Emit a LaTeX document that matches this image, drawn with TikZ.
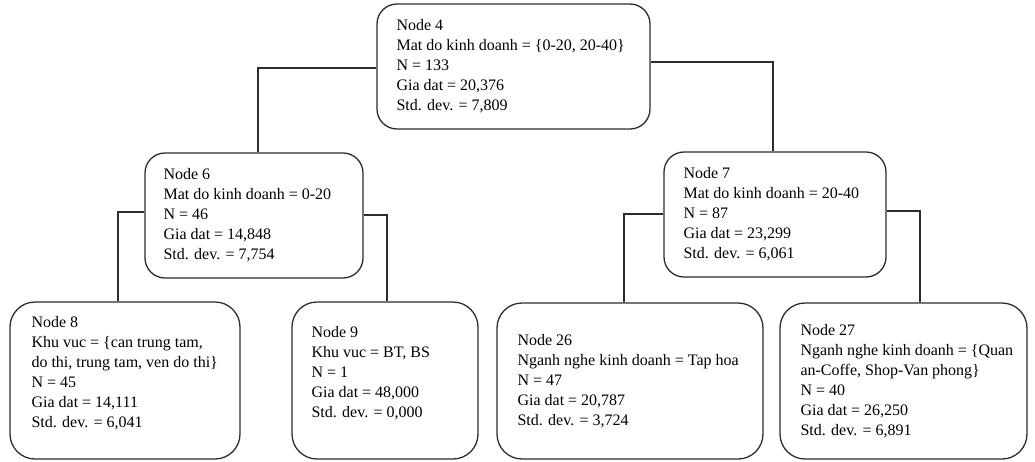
\documentclass[tikz,border=0pt]{standalone}
\usepackage{fontspec}
\setmainfont{Liberation Serif}
\definecolor{ink}{RGB}{45,45,45}
\tikzset{
  treebox/.style={draw=ink, line width=1.3pt, rounded corners=20pt, fill=white, inner sep=0pt},
  leafbox/.style={treebox, rounded corners=25pt},
  boxtext/.style={anchor=west, align=left, inner sep=0pt, font=\fontsize{16}{20}\selectfont, text=black},
  link/.style={draw=ink, line width=1.3pt}
}
\begin{document}
\begin{tikzpicture}[x=1pt,y=-1pt]
\useasboundingbox (0,0) rectangle (1035,461);

% boxes of the regression tree
\node[treebox, minimum width=273pt, minimum height=125pt] (n4) at (513.5,66.5) {};
\node[treebox, minimum width=218pt, minimum height=125pt] (n6) at (254,215.5) {};
\node[treebox, minimum width=222pt, minimum height=125pt] (n7) at (775,214.5) {};
\node[leafbox, minimum width=230pt, minimum height=157pt] (n8) at (125,380.5) {};
\node[leafbox, minimum width=186pt, minimum height=157pt] (n9) at (385,380.5) {};
\node[leafbox, minimum width=266pt, minimum height=156pt] (n26) at (630,381) {};
\node[leafbox, minimum width=247pt, minimum height=156pt] (n27) at (903.5,381) {};

% contents of each box
\node[boxtext] (t4) at ([xshift=20pt]n4.west) {Node 4\\Mat do kinh doanh = \{0-20, 20-40\}\\N = 133\\Gia dat = 20,376\\Std. dev. = 7,809};
\node[boxtext] (t6) at ([xshift=19pt]n6.west) {Node 6\\Mat do kinh doanh = 0-20\\N = 46\\Gia dat = 14,848\\Std. dev. = 7,754};
\node[boxtext] (t7) at ([xshift=20pt]n7.west) {Node 7\\Mat do kinh doanh = 20-40\\N = 87\\Gia dat = 23,299\\Std. dev. = 6,061};
\node[boxtext] (t8) at ([xshift=22pt,yshift=7pt]n8.west) {Node 8\\Khu vuc = \{can trung tam,\\do thi, trung tam, ven do thi\}\\N = 45\\Gia dat = 14,111\\Std. dev. = 6,041};
\node[boxtext] (t9) at ([xshift=20pt,yshift=7pt]n9.west) {Node 9\\Khu vuc = BT, BS\\N = 1\\Gia dat = 48,000\\Std. dev. = 0,000};
\node[boxtext] (t26) at ([xshift=21pt]n26.west) {Node 26\\Nganh nghe kinh doanh = Tap hoa\\N = 47\\Gia dat = 20,787\\Std. dev. = 3,724};
\node[boxtext] (t27) at ([xshift=21pt]n27.west) {Node 27\\Nganh nghe kinh doanh = \{Quan\\an-Coffe, Shop-Van phong\}\\N = 40\\Gia dat = 26,250\\Std. dev. = 6,891};

% elbow connectors from parent sides to child tops
\draw[link] ([yshift=-1.5pt]n4.west) -| ([xshift=4pt]n6.north);
\draw[link] ([yshift=4.5pt]n4.east) -| ([xshift=-2pt]n7.north);
\draw[link] ([yshift=3.5pt]n6.west) -| ([xshift=-7pt]n8.north);
\draw[link] ([yshift=0.5pt]n6.east) -| ([xshift=2pt]n9.north);
\draw[link] ([yshift=0.5pt]n7.west) -| ([xshift=-6pt]n26.north);
\draw[link] ([yshift=3.5pt]n7.east) -| ([xshift=16.5pt]n27.north);
\end{tikzpicture}
\end{document}
